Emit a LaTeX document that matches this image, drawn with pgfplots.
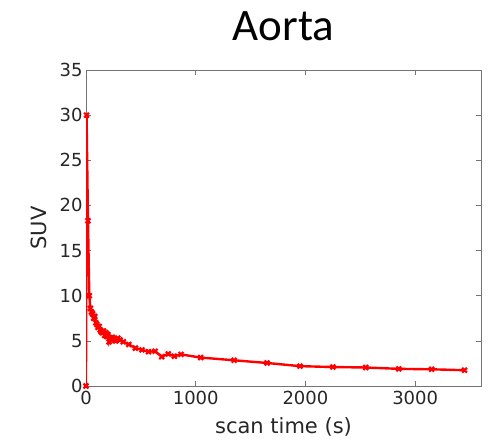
\documentclass[border=0pt]{standalone}
\usepackage{pgfplots}
\pgfplotsset{compat=1.18}
\usepackage{fontspec}
\setmainfont{DejaVu Sans}
\newfontfamily\titlefont{Carlito}
\definecolor{axgray}{gray}{0.15}
\begin{document}
\begin{tikzpicture}
\begin{axis}[
  scale only axis,
  width=395pt, height=316pt,
  xmin=0, xmax=3600, ymin=0, ymax=35,
  xtick={0,1000,2000,3000},
  ytick={0,5,10,15,20,25,30,35},
  tick align=inside,
  major tick length=5pt,
  axis line style={black!55, line width=0.6pt},
  every tick/.style={black!55, line width=0.6pt},
  tick label style={font=\fontsize{18}{18}\selectfont, text=axgray},
  xticklabel style={yshift=-2pt},
  /pgf/number format/assume math mode=true,
  scaled x ticks=false,
  xticklabel style={/pgf/number format/1000 sep={}},
  xlabel={scan time (s)},
  ylabel={SUV},
  label style={font=\fontsize{21}{21}\selectfont, text=axgray},
  xlabel style={yshift=-6pt},
  ylabel style={yshift=6pt},
  title={\titlefont Aorta},
  title style={font=\fontsize{45}{45}\selectfont, yshift=20pt},
]
\addplot[red, line width=2.4pt, mark=x, mark size=3.4pt, mark options={line width=2.2pt}] coordinates {
(0,0) (5,30) (18,18.3) (30,10) (40,8.6) (50,8.2) (60,8.0) (70,7.5) (80,7.7)
(90,7.0) (100,6.8) (110,6.5) (120,6.6) (130,6.2) (140,6.0) (150,5.9) (160,6.1)
(170,5.6) (180,5.9) (190,5.5) (200,5.7) (210,4.9) (220,5.3) (230,5.1) (240,5.4)
(250,5.2) (270,5.0) (290,5.3) (310,5.1) (340,4.9) (390,4.6) (450,4.2) (510,4.0)
(570,3.8) (630,3.85) (690,3.25) (750,3.55) (805,3.3) (866,3.5) (1045,3.15)
(1350,2.85) (1650,2.55) (1950,2.2) (2250,2.1) (2550,2.05) (2850,1.9) (3150,1.85)
(3450,1.75)
};
\end{axis}
\useasboundingbox ([xshift=-86pt,yshift=-56pt]current axis.south west) rectangle ([xshift=7pt,yshift=70pt]current axis.north east);
\end{tikzpicture}
\end{document}
